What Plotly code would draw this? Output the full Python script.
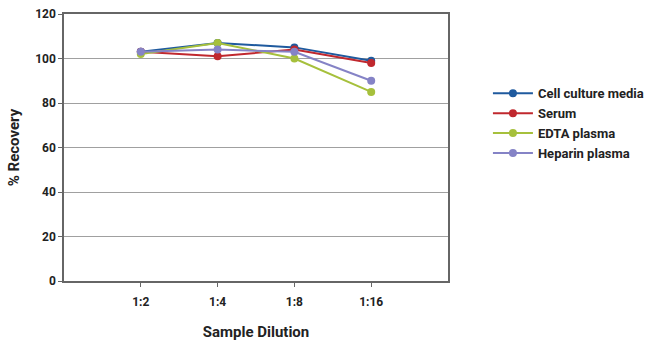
import plotly.graph_objects as go

dilutions = ["1:2", "1:4", "1:8", "1:16"]
cell_culture = [103, 107, 105, 99]
serum = [103, 101, 104, 98]
edta = [102, 107, 100, 85]
heparin = [103, 104, 103, 90]

series = [
    ("Cell culture media", cell_culture, "#1F5A9E"),
    ("Serum", serum, "#C0282E"),
    ("EDTA plasma", edta, "#A6C03C"),
    ("Heparin plasma", heparin, "#8583C6"),
]

FONT = "Roboto, sans-serif"

def f(size):
    return dict(family=FONT, size=size, color="#222", weight="bold")

fig = go.Figure()
for name, vals, col in series:
    fig.add_trace(go.Scatter(
        x=dilutions, y=vals, name=name, mode="lines+markers",
        line=dict(color=col, width=2),
        marker=dict(color=col, size=8),
    ))

fig.update_layout(
    width=650, height=350,
    margin=dict(l=64, r=202, t=14, b=69, autoexpand=False),
    paper_bgcolor="white", plot_bgcolor="white",
    font=f(12),
    showlegend=True,
    legend=dict(x=1.104, y=0.759, xanchor="left", yanchor="top",
                font=f(13), tracegroupgap=0, itemwidth=40),
    xaxis=dict(
        type="category", range=[-1, 4],
        showline=True, linecolor="#666", linewidth=1.5, mirror=True,
        ticks="outside", ticklen=4, tickcolor="#666",
        ticklabelstandoff=5,
        showgrid=False, zeroline=False,
        tickfont=f(12),
        title=dict(text="Sample Dilution", font=f(15), standoff=18),
    ),
    yaxis=dict(
        range=[0, 120], dtick=20,
        showline=True, linecolor="#666", linewidth=1.5, mirror=True,
        ticks="outside", ticklen=4, tickcolor="#666",
        showgrid=True, gridcolor="#A0A0A0", gridwidth=1, zeroline=False,
        tickfont=f(12),
        title=dict(text="% Recovery", font=f(15), standoff=12),
    ),
)

fig.write_html("out.html")
